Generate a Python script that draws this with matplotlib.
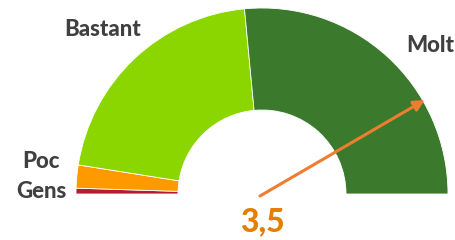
import numpy as np
import matplotlib
matplotlib.use("Agg")
import matplotlib.pyplot as plt

# gauge data
categories = ["Gens", "Poc", "Bastant", "Molt"]
values = [1, 4, 42, 53]
colors = ["#B31E30", "#FF9900", "#8CD600", "#3B7A2C"]
score = 3.5
scale_min, scale_max = 1, 4
score_label = "3,5"

plt.rcParams['font.family'] = ['Lato', 'DejaVu Sans']

fig = plt.figure(figsize=(4.55, 2.4), dpi=100)
ax = fig.add_axes([0, 0, 1, 1])

cx, cy = 262, 46
r_out, r_in = 186, 84

# hidden lower half
vals = values + [sum(values)]
cols = colors + ["none"]
ax.pie(vals, colors=cols, startangle=180, counterclock=False,
       radius=r_out, center=(cx, cy),
       wedgeprops=dict(width=r_out - r_in, edgecolor="white", linewidth=0.6))
# remove edge of hidden wedge
ax.patches[-1].set_edgecolor("none")

ax.set_xlim(0, 455)
ax.set_ylim(0, 240)
ax.set_aspect("equal")
ax.axis("off")

# needle
ang = np.deg2rad(180 * (scale_max - score) / (scale_max - scale_min))
tip = (cx + 188 * np.cos(ang), cy + 188 * np.sin(ang))
ax.annotate("", xy=tip, xytext=(cx - 2, cy - 2),
            arrowprops=dict(arrowstyle="-|>", color="#ED7D31", lw=2.2,
                            mutation_scale=16, shrinkA=0, shrinkB=0))

txt = dict(color="#404040", fontsize=16, fontweight="black", ha="center", va="center")
ax.text(103, 210, "Bastant", **txt)
ax.text(430, 195, "Molt", **txt)
ax.text(41, 78, "Poc", **txt)
ax.text(41, 49, "Gens", **txt)

ax.text(262, 18, score_label, color="#E67E00", fontsize=23, fontweight="black",
        ha="center", va="center")

fig.savefig("out.png", dpi=100)
